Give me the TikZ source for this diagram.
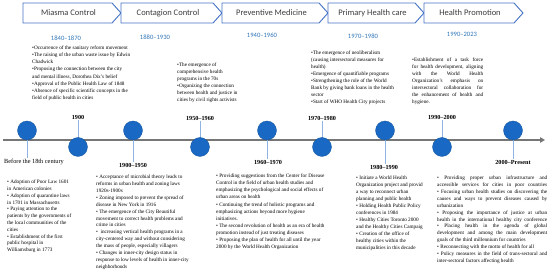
\documentclass[tikz,border=0pt]{standalone}
\usepackage{fontspec}
\setmainfont{Liberation Serif}
\newfontfamily\hdrfont{Carlito}
\usetikzlibrary{arrows.meta}
\definecolor{hdrblue}{RGB}{68,114,196}
\definecolor{hdrtext}{RGB}{60,60,60}
\definecolor{datblue}{RGB}{46,117,182}
\definecolor{dotblue}{RGB}{24,104,196}
\definecolor{stemblue}{RGB}{143,180,227}
\definecolor{axisgray}{RGB}{118,118,118}
\begin{document}
\begin{tikzpicture}[x=1pt,y=-1pt,
 hdrbox/.style={draw=hdrblue,line width=0.9pt,fill=white},
 hdrlabel/.style={font=\hdrfont\fontsize{8.5}{10}\selectfont,text=hdrtext,inner sep=0},
 period/.style={font=\hdrfont\fontsize{6.6}{8}\selectfont,text=datblue,inner sep=0},
 info/.style={align=left,anchor=north west,inner sep=0},
 yr/.style={font=\bfseries\fontsize{6.2}{7}\selectfont,inner sep=0.5pt},
 yrplain/.style={font=\fontsize{6.3}{7}\selectfont,inner sep=0.5pt},
 dot/.style={circle,fill=dotblue,draw=dotblue!80!black,line width=0.3pt,minimum size=19pt,inner sep=0},
 stem/.style={draw=stemblue,line width=0.9pt},
 axis/.style={draw=axisgray,line width=2.6pt,-{Triangle[length=5pt,width=5.5pt]}},
]
\useasboundingbox (0,0) rectangle (550,272);

% header chevrons
\foreach \a/\b/\t [count=\i] in {23/121/Miasma Control,121/222/Contagion Control,222/328/Preventive Medicine,328/424/Primary Health care,424/523/Health Promotion}{
  \draw[hdrbox] (\a,3) -- (\b-9,3) -- (\b,13) -- (\b-9,23) -- (\a,23) -- cycle;
  \node[hdrlabel] (h\i) at ({(\a+\b-9)/2+1},13) {\t};
}

% period labels
\node[period] (p1) at (66,38) {1840–1870};
\node[period] (p2) at (155,37) {1880–1930};
\node[period] (p3) at (262,35) {1940–1960};
\node[period] (p4) at (363,36) {1970–1980};
\node[period] (p5) at (462,34) {1990–2023};

% upper text blocks
\node[info,font=\fontsize{5.2}{7.1}\selectfont] (t1) at (32,45.8) {%
•Occurrence of the sanitary reform movement\\
•The raising of the urban waste issue by Edwin\\
Chadwick\\
•Proposing the connection between the city\\
and mental illness, Dorothea Dix's belief\\
•Approval of the Public Health Law of 1848\\
•Absence of specific scientific concepts in the\\
field of public health in cities};

\node[info,font=\fontsize{5.2}{7}\selectfont] (t2) at (177,62.8) {%
•The emergence of\\
comprehensive health\\
programs in the 70s\\
•Organizing the connection\\
between health and justice in\\
cities by civil rights activists};

\node[info,font=\fontsize{5.2}{7}\selectfont] (t3) at (311,50.8) {%
•The emergence of neoliberalism\\
(causing intersectoral measures for\\
health)\\
•Emergence of quantifiable programs\\
•Strengthening the role of the World\\
Bank by giving bank loans in the health\\
sector\\
•Start of WHO Health City projects};

\node[info,font=\fontsize{5.2}{7}\selectfont] (t4) at (412,57.8) {%
\makebox[71pt][s]{•Establishment of a task force}\\
\makebox[71pt][s]{for health development, aligning}\\
\makebox[71pt][s]{with the World Health}\\
\makebox[71pt][s]{Organization's emphasis on}\\
\makebox[71pt][s]{intersectoral collaboration for}\\
\makebox[71pt][s]{the enhancement of health and}\\
hygiene.};

% lower text blocks
\node[info,font=\fontsize{5.2}{6.8}\selectfont] (b1) at (7,179.8) {%
• Adoption of Poor Law 1601\\
in American colonies\\
• Adoption of quarantine laws\\
in 1701 in Massachusetts\\
• Paying attention to the\\
patients by the governments of\\
the local communities of the\\
cities\\
• Establishment of the first\\
public hospital in\\
Williamsburg in 1773};

\node[info,font=\fontsize{5.2}{6.9}\selectfont] (b2) at (96,174.8) {%
• Acceptance of microbial theory leads to\\
reforms in urban health and zoning laws\\
1920s-1900s\\
• Zoning imposed to prevent the spread of\\
disease in New York in 1916\\
• The emergence of the City Beautiful\\
movement to correct health problems and\\
crime in cities\\
• \ increasing vertical health programs in a\\
city-centered way and without considering\\
the mass of people, especially villagers\\
• Changes in inner-city design status in\\
response to low levels of health in inner-city\\
neighborhoods};

\node[info,font=\fontsize{5.2}{7.1}\selectfont] (b3) at (216,173.8) {%
• Providing suggestions from the Center for Disease\\
Control in the field of urban health studies and\\
emphasizing the psychological and social effects of\\
urban areas on health\\
• Continuing the trend of holistic programs and\\
emphasizing actions beyond more hygiene\\
initiatives.\\
• The second revolution of health as an era of health\\
promotion instead of just treating diseases\\
• Proposing the plan of health for all until the year\\
2000 by the World Health Organization};

\node[info,font=\fontsize{5.2}{7}\selectfont] (b4) at (356,175.8) {%
• Initiate a World Health\\
Organization project and provid\\
a way to reconnect urban\\
planning and public health\\
• Holding Health Public Policy\\
conferences in 1984\\
• Healthy Cities Toronto 2000\\
and the Healthy Cities Campaig\\
• Creation of the office of\\
healthy cities within the\\
municipalities in this decade};

\node[info,font=\fontsize{5.2}{6.9}\selectfont] (b5) at (437,175.8) {%
\makebox[110pt][s]{• Providing proper urban infrastructure and}\\
\makebox[110pt][s]{accessible services for cities in poor countries}\\
\makebox[110pt][s]{• Focusing urban health studies on discovering the}\\
\makebox[110pt][s]{causes and ways to prevent diseases caused by}\\
urbanization\\
\makebox[110pt][s]{• Proposing the importance of justice at urban}\\
\makebox[110pt][s]{health in the international healthy city conference}\\
\makebox[110pt][s]{• Placing health in the agenda of global}\\
\makebox[110pt][s]{development and among the main development}\\
goals of the third millennium for countries\\
• Reconnecting with the motto of health for all\\
\makebox[110pt][s]{• Policy measures in the field of trans-sectoral and}\\
inter-sectoral factors affecting health};

% timeline axis
\coordinate (ax0) at (3,140);
\coordinate (ax1) at (545,140);
\draw[axis] (ax0) -- (ax1);

% year labels
\node[yrplain] (l1) at (34,162) {Before the 18th century};
\node[yr] (l2) at (133,165) {1900–1950};
\node[yr] (l3) at (268,162) {1960–1970};
\node[yr] (l4) at (384,167) {1980–1990};
\node[yr] (l5) at (513,162) {2000–Present};
\node[yr] (l6) at (78,117) {1900};
\node[yr] (l7) at (200,118) {1950–1960};
\node[yr] (l8) at (322,118) {1970–1980};
\node[yr] (l9) at (442,117) {1990–2000};

% dot positions
\coordinate (c1) at (27,130.5);
\coordinate (c2) at (133,130.5);
\coordinate (c3) at (267,130.5);
\coordinate (c4) at (385,130.5);
\coordinate (c5) at (513,130.5);
\coordinate (c6) at (78,147);
\coordinate (c7) at (200,147);
\coordinate (c8) at (322,147);
\coordinate (c9) at (442,147);

% stems
\foreach \i in {1,...,5}{ \draw[stem] (c\i) -- (c\i |- l\i.north); }
\foreach \i in {6,...,9}{ \draw[stem] (c\i) -- (c\i |- l\i.south); }

% dots
\foreach \i in {1,...,9}{ \node[dot] (d\i) at (c\i) {}; }
\end{tikzpicture}
\end{document}
